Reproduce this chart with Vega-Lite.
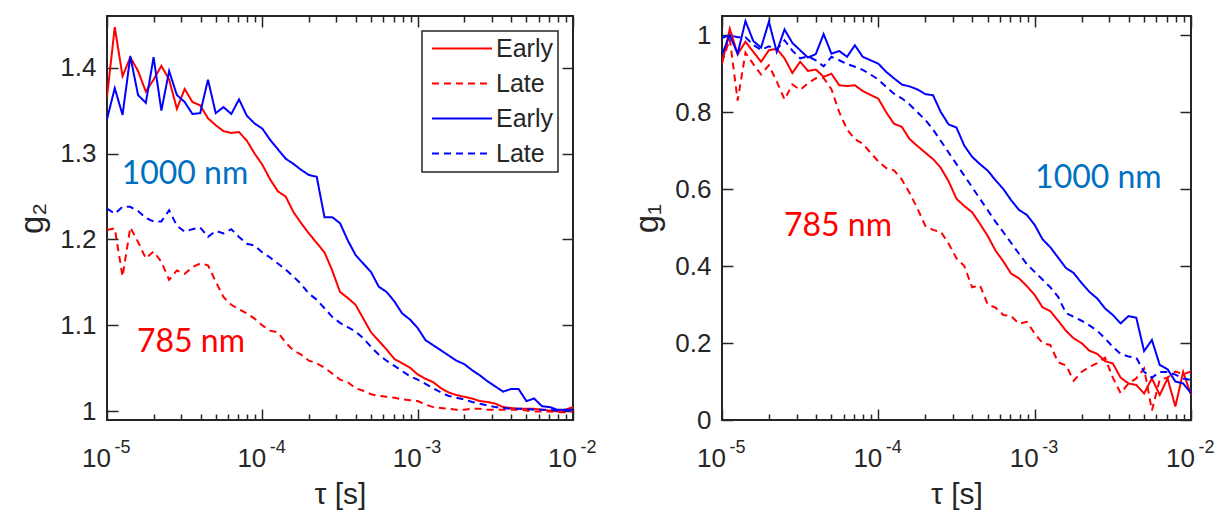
{
  "$schema": "https://vega.github.io/schema/vega-lite/v6.json",
  "padding": {"left": 15, "top": 14, "right": 0, "bottom": 0},
  "autosize": {"type": "pad"},
  "bounds": "flush",
  "spacing": 149,
  "config": {
    "view": {"stroke": "#262626", "strokeWidth": 2},
    "font": "Liberation Sans",
    "axis": {"domain": false, "grid": false, "labelFont": "Liberation Sans", "labelFontSize": 26, "labelColor": "#262626", "tickColor": "#262626", "tickWidth": 1.5, "titleFont": "Liberation Sans", "titleFontWeight": "normal", "titleColor": "#262626", "labelFlush": false, "labelOverlap": false},
    "legend": {"orient": "top-right", "offset": 15, "fillColor": "white", "strokeColor": "#262626", "strokeWidth": 1.5, "padding": 5, "rowPadding": 9, "labelFont": "Liberation Sans", "labelFontSize": 25, "labelColor": "#262626", "symbolType": "M-1,0H7", "symbolSize": 225, "symbolStrokeWidth": 2, "labelOffset": 44, "title": null}
  },
  "resolve": {"scale": {"color": "independent", "strokeDash": "independent"}, "legend": {"color": "independent", "strokeDash": "independent"}},
  "hconcat": [
    {
      "width": 466, "height": 404,
      "resolve": {"axis": {"x": "independent", "y": "independent"}},
      "layer": [
        {
          "data": {"values": [
            {"t":1e-5,"RE":1.366,"RL":1.211,"BE":1.340,"BL":1.236},
            {"t":1.122e-5,"RE":1.447,"RL":1.213,"BE":1.376,"BL":1.230},
            {"t":1.259e-5,"RE":1.390,"RL":1.157,"BE":1.345,"BL":1.238},
            {"t":1.413e-5,"RE":1.412,"RL":1.214,"BE":1.413,"BL":1.238},
            {"t":1.585e-5,"RE":1.396,"RL":1.197,"BE":1.368,"BL":1.233},
            {"t":1.778e-5,"RE":1.372,"RL":1.178,"BE":1.359,"BL":1.225},
            {"t":1.995e-5,"RE":1.386,"RL":1.186,"BE":1.412,"BL":1.221},
            {"t":2.239e-5,"RE":1.402,"RL":1.174,"BE":1.350,"BL":1.221},
            {"t":2.512e-5,"RE":1.386,"RL":1.153,"BE":1.396,"BL":1.234},
            {"t":2.818e-5,"RE":1.352,"RL":1.164,"BE":1.368,"BL":1.216},
            {"t":3.162e-5,"RE":1.375,"RL":1.160,"BE":1.360,"BL":1.209},
            {"t":3.548e-5,"RE":1.360,"RL":1.168,"BE":1.346,"BL":1.212},
            {"t":3.981e-5,"RE":1.356,"RL":1.172,"BE":1.347,"BL":1.214},
            {"t":4.467e-5,"RE":1.341,"RL":1.170,"BE":1.386,"BL":1.203},
            {"t":5.012e-5,"RE":1.333,"RL":1.151,"BE":1.347,"BL":1.210},
            {"t":5.623e-5,"RE":1.326,"RL":1.133,"BE":1.354,"BL":1.207},
            {"t":6.310e-5,"RE":1.324,"RL":1.124,"BE":1.346,"BL":1.212},
            {"t":7.079e-5,"RE":1.325,"RL":1.119,"BE":1.363,"BL":1.203},
            {"t":7.943e-5,"RE":1.315,"RL":1.114,"BE":1.344,"BL":1.195},
            {"t":8.913e-5,"RE":1.300,"RL":1.108,"BE":1.335,"BL":1.193},
            {"t":1e-4,"RE":1.287,"RL":1.100,"BE":1.329,"BL":1.185},
            {"t":1.122e-4,"RE":1.270,"RL":1.094,"BE":1.316,"BL":1.179},
            {"t":1.259e-4,"RE":1.256,"RL":1.092,"BE":1.305,"BL":1.172},
            {"t":1.413e-4,"RE":1.250,"RL":1.080,"BE":1.294,"BL":1.165},
            {"t":1.585e-4,"RE":1.232,"RL":1.071,"BE":1.288,"BL":1.157},
            {"t":1.778e-4,"RE":1.219,"RL":1.066,"BE":1.281,"BL":1.148},
            {"t":1.995e-4,"RE":1.207,"RL":1.059,"BE":1.275,"BL":1.137},
            {"t":2.239e-4,"RE":1.196,"RL":1.056,"BE":1.273,"BL":1.130},
            {"t":2.512e-4,"RE":1.185,"RL":1.051,"BE":1.226,"BL":1.120},
            {"t":2.818e-4,"RE":1.164,"RL":1.044,"BE":1.226,"BL":1.110},
            {"t":3.162e-4,"RE":1.139,"RL":1.037,"BE":1.219,"BL":1.103},
            {"t":3.548e-4,"RE":1.132,"RL":1.034,"BE":1.199,"BL":1.098},
            {"t":3.981e-4,"RE":1.124,"RL":1.027,"BE":1.182,"BL":1.093},
            {"t":4.467e-4,"RE":1.108,"RL":1.024,"BE":1.172,"BL":1.085},
            {"t":5.012e-4,"RE":1.092,"RL":1.020,"BE":1.162,"BL":1.075},
            {"t":5.623e-4,"RE":1.082,"RL":1.018,"BE":1.145,"BL":1.066},
            {"t":6.310e-4,"RE":1.072,"RL":1.017,"BE":1.139,"BL":1.059},
            {"t":7.079e-4,"RE":1.061,"RL":1.016,"BE":1.128,"BL":1.053},
            {"t":7.943e-4,"RE":1.056,"RL":1.014,"BE":1.114,"BL":1.047},
            {"t":8.913e-4,"RE":1.051,"RL":1.013,"BE":1.107,"BL":1.041},
            {"t":1e-3,"RE":1.043,"RL":1.012,"BE":1.097,"BL":1.037},
            {"t":1.122e-3,"RE":1.038,"RL":1.008,"BE":1.083,"BL":1.032},
            {"t":1.259e-3,"RE":1.034,"RL":1.005,"BE":1.077,"BL":1.027},
            {"t":1.413e-3,"RE":1.027,"RL":1.004,"BE":1.071,"BL":1.022},
            {"t":1.585e-3,"RE":1.022,"RL":1.003,"BE":1.065,"BL":1.018},
            {"t":1.778e-3,"RE":1.019,"RL":1.002,"BE":1.059,"BL":1.016},
            {"t":1.995e-3,"RE":1.017,"RL":1.002,"BE":1.055,"BL":1.014},
            {"t":2.239e-3,"RE":1.015,"RL":1.003,"BE":1.048,"BL":1.011},
            {"t":2.512e-3,"RE":1.012,"RL":1.003,"BE":1.042,"BL":1.009},
            {"t":2.818e-3,"RE":1.011,"RL":1.002,"BE":1.035,"BL":1.007},
            {"t":3.162e-3,"RE":1.009,"RL":1.002,"BE":1.029,"BL":1.005},
            {"t":3.548e-3,"RE":1.005,"RL":1.002,"BE":1.023,"BL":1.004},
            {"t":3.981e-3,"RE":1.004,"RL":1.002,"BE":1.026,"BL":1.003},
            {"t":4.467e-3,"RE":1.003,"RL":1.002,"BE":1.026,"BL":1.003},
            {"t":5.012e-3,"RE":1.003,"RL":1.001,"BE":1.012,"BL":1.003},
            {"t":5.623e-3,"RE":1.003,"RL":1.000,"BE":1.015,"BL":1.002},
            {"t":6.310e-3,"RE":1.002,"RL":1.000,"BE":1.006,"BL":1.002},
            {"t":7.079e-3,"RE":1.001,"RL":1.000,"BE":1.005,"BL":1.002},
            {"t":7.943e-3,"RE":1.000,"RL":0.999,"BE":1.002,"BL":1.001},
            {"t":8.913e-3,"RE":1.002,"RL":0.999,"BE":1.002,"BL":1.001},
            {"t":1e-2,"RE":1.005,"RL":1.000,"BE":1.002,"BL":1.000}
          ]},
          "transform": [{"fold": ["RE", "RL", "BE", "BL"], "as": ["s", "v"]}],
          "mark": {"type": "line", "strokeWidth": 2, "clip": true},
          "encoding": {
            "x": {"field": "t", "type": "quantitative", "scale": {"type": "log", "domain": [0.00001, 0.01], "nice": false},
              "axis": {"orient": "bottom", "title": "τ [s]", "titleFontSize": 30, "titlePadding": 3, "labelPadding": 36, "labelFontSize": 26, "labelOffset": -11,
                "values": [0.00001,0.00002,0.00003,0.00004,0.00005,0.00006,0.00007,0.00008,0.00009,0.0001,0.0002,0.0003,0.0004,0.0005,0.0006,0.0007,0.0008,0.0009,0.001,0.002,0.003,0.004,0.005,0.006,0.007,0.008,0.009,0.01],
                "labelExpr": "indexof([0.00001,0.0001,0.001,0.01], datum.value) >= 0 ? '10' : ''",
                "tickSize": {"condition": {"test": "indexof([0.00001,0.0001,0.001,0.01], datum.value) >= 0", "value": -11}, "value": -6}}},
            "y": {"field": "v", "type": "quantitative", "scale": {"domain": [0.99, 1.46], "nice": false, "zero": false},
              "axis": {"orient": "left", "title": "g₂", "titleFontSize": 33, "titlePadding": 10, "values": [1, 1.1, 1.2, 1.3, 1.4], "format": "~g", "tickSize": -11, "labelPadding": 22, "labelFontSize": 26}},
            "color": {"field": "s", "type": "nominal", "scale": {"domain": ["RE", "RL", "BE", "BL"], "range": ["#ff0000", "#ff0000", "#0000ff", "#0000ff"]},
              "legend": {"labelExpr": "datum.label == 'RE' || datum.label == 'BE' ? 'Early' : 'Late'"}},
            "strokeDash": {"field": "s", "type": "nominal", "scale": {"domain": ["RE", "RL", "BE", "BL"], "range": [[1, 0], [7, 5], [1, 0], [7, 5]]},
              "legend": {"labelExpr": "datum.label == 'RE' || datum.label == 'BE' ? 'Early' : 'Late'"}}
          }
        },
        {
          "data": {"values": [{"t": 1.243e-5, "v": 1.276, "label": "1000 nm"}]},
          "mark": {"type": "text", "align": "left", "baseline": "middle", "font": "Lato", "fontSize": 32, "color": "#0070c0"},
          "encoding": {
            "x": {"field": "t", "type": "quantitative", "scale": {"type": "log", "domain": [0.00001, 0.01], "nice": false},
              "axis": {"orient": "top", "title": null, "labels": false,
                "values": [0.00001,0.00002,0.00003,0.00004,0.00005,0.00006,0.00007,0.00008,0.00009,0.0001,0.0002,0.0003,0.0004,0.0005,0.0006,0.0007,0.0008,0.0009,0.001,0.002,0.003,0.004,0.005,0.006,0.007,0.008,0.009,0.01],
                "tickSize": {"condition": {"test": "indexof([0.00001,0.0001,0.001,0.01], datum.value) >= 0", "value": -11}, "value": -6}}},
            "y": {"field": "v", "type": "quantitative", "scale": {"domain": [0.99, 1.46], "nice": false, "zero": false},
              "axis": {"orient": "right", "title": null, "labels": false, "values": [1, 1.1, 1.2, 1.3, 1.4], "tickSize": -11}},
            "text": {"field": "label"}
          }
        },
        {
          "data": {"values": [{"t": 1.56e-5, "v": 1.0805, "label": "785 nm"}]},
          "mark": {"type": "text", "align": "left", "baseline": "middle", "font": "Lato", "fontSize": 32, "color": "#ff0000"},
          "encoding": {
            "x": {"field": "t", "type": "quantitative", "scale": {"type": "log", "domain": [0.00001, 0.01], "nice": false},
              "axis": {"orient": "bottom", "title": null, "ticks": false, "tickSize": 0, "labelPadding": 18, "labelFontSize": 18, "labelOffset": 15,
                "values": [0.00001, 0.0001, 0.001, 0.01],
                "labelExpr": "datum.value == 0.00001 ? '-5' : datum.value == 0.0001 ? '-4' : datum.value == 0.001 ? '-3' : '-2'"}},
            "y": {"field": "v", "type": "quantitative", "scale": {"domain": [0.99, 1.46], "nice": false, "zero": false}, "axis": null},
            "text": {"field": "label"}
          }
        }
      ]
    },
    {
      "width": 469, "height": 404,
      "resolve": {"axis": {"x": "independent", "y": "independent"}},
      "layer": [
        {
          "data": {"values": [
            {"t":1e-5,"RE":0.926,"RL":0.930,"BE":0.950,"BL":0.993},
            {"t":1.122e-5,"RE":1.017,"RL":0.990,"BE":1.000,"BL":1.000},
            {"t":1.259e-5,"RE":0.951,"RL":0.830,"BE":0.952,"BL":0.995},
            {"t":1.413e-5,"RE":0.983,"RL":0.955,"BE":1.037,"BL":0.995},
            {"t":1.585e-5,"RE":0.957,"RL":0.925,"BE":0.985,"BL":0.975},
            {"t":1.778e-5,"RE":0.931,"RL":0.898,"BE":0.968,"BL":0.962},
            {"t":1.995e-5,"RE":0.961,"RL":0.922,"BE":1.035,"BL":0.971},
            {"t":2.239e-5,"RE":0.965,"RL":0.880,"BE":0.957,"BL":0.963},
            {"t":2.512e-5,"RE":0.940,"RL":0.833,"BE":1.015,"BL":0.987},
            {"t":2.818e-5,"RE":0.902,"RL":0.872,"BE":0.980,"BL":0.960},
            {"t":3.162e-5,"RE":0.931,"RL":0.858,"BE":0.961,"BL":0.940},
            {"t":3.548e-5,"RE":0.907,"RL":0.875,"BE":0.942,"BL":0.945},
            {"t":3.981e-5,"RE":0.911,"RL":0.888,"BE":0.951,"BL":0.935},
            {"t":4.467e-5,"RE":0.892,"RL":0.889,"BE":1.003,"BL":0.919},
            {"t":5.012e-5,"RE":0.900,"RL":0.860,"BE":0.952,"BL":0.944},
            {"t":5.623e-5,"RE":0.870,"RL":0.800,"BE":0.959,"BL":0.935},
            {"t":6.310e-5,"RE":0.868,"RL":0.755,"BE":0.944,"BL":0.925},
            {"t":7.079e-5,"RE":0.870,"RL":0.730,"BE":0.974,"BL":0.918},
            {"t":7.943e-5,"RE":0.855,"RL":0.718,"BE":0.944,"BL":0.910},
            {"t":8.913e-5,"RE":0.845,"RL":0.695,"BE":0.935,"BL":0.898},
            {"t":1e-4,"RE":0.835,"RL":0.672,"BE":0.926,"BL":0.885},
            {"t":1.122e-4,"RE":0.800,"RL":0.655,"BE":0.905,"BL":0.866},
            {"t":1.259e-4,"RE":0.770,"RL":0.649,"BE":0.888,"BL":0.848},
            {"t":1.413e-4,"RE":0.762,"RL":0.625,"BE":0.872,"BL":0.836},
            {"t":1.585e-4,"RE":0.730,"RL":0.590,"BE":0.867,"BL":0.820},
            {"t":1.778e-4,"RE":0.712,"RL":0.550,"BE":0.859,"BL":0.800},
            {"t":1.995e-4,"RE":0.695,"RL":0.505,"BE":0.847,"BL":0.780},
            {"t":2.239e-4,"RE":0.678,"RL":0.494,"BE":0.844,"BL":0.755},
            {"t":2.512e-4,"RE":0.655,"RL":0.489,"BE":0.800,"BL":0.725},
            {"t":2.818e-4,"RE":0.620,"RL":0.458,"BE":0.768,"BL":0.695},
            {"t":3.162e-4,"RE":0.575,"RL":0.420,"BE":0.760,"BL":0.665},
            {"t":3.548e-4,"RE":0.556,"RL":0.400,"BE":0.713,"BL":0.635},
            {"t":3.981e-4,"RE":0.540,"RL":0.345,"BE":0.684,"BL":0.605},
            {"t":4.467e-4,"RE":0.510,"RL":0.350,"BE":0.665,"BL":0.575},
            {"t":5.012e-4,"RE":0.478,"RL":0.300,"BE":0.648,"BL":0.545},
            {"t":5.623e-4,"RE":0.440,"RL":0.292,"BE":0.623,"BL":0.515},
            {"t":6.310e-4,"RE":0.412,"RL":0.273,"BE":0.600,"BL":0.488},
            {"t":7.079e-4,"RE":0.380,"RL":0.270,"BE":0.571,"BL":0.460},
            {"t":7.943e-4,"RE":0.368,"RL":0.250,"BE":0.546,"BL":0.432},
            {"t":8.913e-4,"RE":0.348,"RL":0.255,"BE":0.533,"BL":0.405},
            {"t":1e-3,"RE":0.325,"RL":0.225,"BE":0.507,"BL":0.385},
            {"t":1.122e-3,"RE":0.293,"RL":0.200,"BE":0.470,"BL":0.365},
            {"t":1.259e-3,"RE":0.283,"RL":0.195,"BE":0.449,"BL":0.345},
            {"t":1.413e-3,"RE":0.258,"RL":0.150,"BE":0.422,"BL":0.320},
            {"t":1.585e-3,"RE":0.232,"RL":0.142,"BE":0.395,"BL":0.278},
            {"t":1.778e-3,"RE":0.212,"RL":0.102,"BE":0.382,"BL":0.268},
            {"t":1.995e-3,"RE":0.200,"RL":0.125,"BE":0.356,"BL":0.258},
            {"t":2.239e-3,"RE":0.180,"RL":0.138,"BE":0.333,"BL":0.246},
            {"t":2.512e-3,"RE":0.172,"RL":0.148,"BE":0.316,"BL":0.232},
            {"t":2.818e-3,"RE":0.153,"RL":0.162,"BE":0.290,"BL":0.212},
            {"t":3.162e-3,"RE":0.147,"RL":0.110,"BE":0.273,"BL":0.190},
            {"t":3.548e-3,"RE":0.110,"RL":0.070,"BE":0.251,"BL":0.172},
            {"t":3.981e-3,"RE":0.095,"RL":0.095,"BE":0.270,"BL":0.165},
            {"t":4.467e-3,"RE":0.091,"RL":0.108,"BE":0.266,"BL":0.162},
            {"t":5.012e-3,"RE":0.069,"RL":0.134,"BE":0.179,"BL":0.125},
            {"t":5.623e-3,"RE":0.108,"RL":0.025,"BE":0.208,"BL":0.110},
            {"t":6.310e-3,"RE":0.065,"RL":0.105,"BE":0.143,"BL":0.125},
            {"t":7.079e-3,"RE":0.108,"RL":0.110,"BE":0.132,"BL":0.125},
            {"t":7.943e-3,"RE":0.035,"RL":0.126,"BE":0.100,"BL":0.118},
            {"t":8.913e-3,"RE":0.125,"RL":0.119,"BE":0.095,"BL":0.108},
            {"t":1e-2,"RE":0.065,"RL":0.126,"BE":0.070,"BL":0.104}
          ]},
          "transform": [{"fold": ["RE", "RL", "BE", "BL"], "as": ["s", "v"]}],
          "mark": {"type": "line", "strokeWidth": 2, "clip": true},
          "encoding": {
            "x": {"field": "t", "type": "quantitative", "scale": {"type": "log", "domain": [0.00001, 0.01], "nice": false},
              "axis": {"orient": "bottom", "title": "τ [s]", "titleFontSize": 30, "titlePadding": 3, "labelPadding": 36, "labelFontSize": 26, "labelOffset": -11,
                "values": [0.00001,0.00002,0.00003,0.00004,0.00005,0.00006,0.00007,0.00008,0.00009,0.0001,0.0002,0.0003,0.0004,0.0005,0.0006,0.0007,0.0008,0.0009,0.001,0.002,0.003,0.004,0.005,0.006,0.007,0.008,0.009,0.01],
                "labelExpr": "indexof([0.00001,0.0001,0.001,0.01], datum.value) >= 0 ? '10' : ''",
                "tickSize": {"condition": {"test": "indexof([0.00001,0.0001,0.001,0.01], datum.value) >= 0", "value": -11}, "value": -6}}},
            "y": {"field": "v", "type": "quantitative", "scale": {"domain": [0, 1.05], "nice": false, "zero": false},
              "axis": {"orient": "left", "title": "g₁", "titleFontSize": 33, "titlePadding": 10, "values": [0, 0.2, 0.4, 0.6, 0.8, 1], "format": "~g", "tickSize": -11, "labelPadding": 22, "labelFontSize": 26}},
            "color": {"field": "s", "type": "nominal", "scale": {"domain": ["RE", "RL", "BE", "BL"], "range": ["#ff0000", "#ff0000", "#0000ff", "#0000ff"]}, "legend": null},
            "strokeDash": {"field": "s", "type": "nominal", "scale": {"domain": ["RE", "RL", "BE", "BL"], "range": [[1, 0], [7, 5], [1, 0], [7, 5]]}, "legend": null}
          }
        },
        {
          "data": {"values": [{"t": 1.006e-3, "v": 0.63, "label": "1000 nm"}]},
          "mark": {"type": "text", "align": "left", "baseline": "middle", "font": "Lato", "fontSize": 32, "color": "#0070c0"},
          "encoding": {
            "x": {"field": "t", "type": "quantitative", "scale": {"type": "log", "domain": [0.00001, 0.01], "nice": false},
              "axis": {"orient": "top", "title": null, "labels": false,
                "values": [0.00001,0.00002,0.00003,0.00004,0.00005,0.00006,0.00007,0.00008,0.00009,0.0001,0.0002,0.0003,0.0004,0.0005,0.0006,0.0007,0.0008,0.0009,0.001,0.002,0.003,0.004,0.005,0.006,0.007,0.008,0.009,0.01],
                "tickSize": {"condition": {"test": "indexof([0.00001,0.0001,0.001,0.01], datum.value) >= 0", "value": -11}, "value": -6}}},
            "y": {"field": "v", "type": "quantitative", "scale": {"domain": [0, 1.05], "nice": false, "zero": false},
              "axis": {"orient": "right", "title": null, "labels": false, "values": [0, 0.2, 0.4, 0.6, 0.8, 1], "tickSize": -11}},
            "text": {"field": "label"}
          }
        },
        {
          "data": {"values": [{"t": 2.49e-5, "v": 0.505, "label": "785 nm"}]},
          "mark": {"type": "text", "align": "left", "baseline": "middle", "font": "Lato", "fontSize": 32, "color": "#ff0000"},
          "encoding": {
            "x": {"field": "t", "type": "quantitative", "scale": {"type": "log", "domain": [0.00001, 0.01], "nice": false},
              "axis": {"orient": "bottom", "title": null, "ticks": false, "tickSize": 0, "labelPadding": 18, "labelFontSize": 18, "labelOffset": 15,
                "values": [0.00001, 0.0001, 0.001, 0.01],
                "labelExpr": "datum.value == 0.00001 ? '-5' : datum.value == 0.0001 ? '-4' : datum.value == 0.001 ? '-3' : '-2'"}},
            "y": {"field": "v", "type": "quantitative", "scale": {"domain": [0, 1.05], "nice": false, "zero": false}, "axis": null},
            "text": {"field": "label"}
          }
        }
      ]
    }
  ]
}
